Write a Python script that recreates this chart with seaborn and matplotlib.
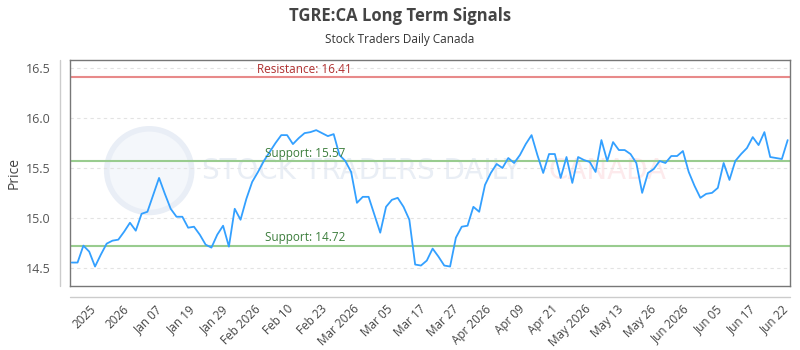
import matplotlib
matplotlib.use("Agg")
import matplotlib.pyplot as plt
import numpy as np
import pandas as pd
import seaborn as sns
from matplotlib.patches import Ellipse

# price series (one point per trading session)
prices = [
    14.55, 14.55, 14.72, 14.66, 14.51, 14.63, 14.74, 14.77, 14.78, 14.86,
    14.95, 14.87, 15.04, 15.06, 15.23, 15.40, 15.24, 15.09, 15.01, 15.01,
    14.90, 14.91, 14.83, 14.73, 14.70, 14.83, 14.92, 14.71, 15.09, 14.98,
    15.19, 15.36, 15.46, 15.57, 15.66, 15.75, 15.83, 15.83, 15.74, 15.80,
    15.85, 15.86, 15.88, 15.85, 15.82, 15.84, 15.63, 15.57, 15.46, 15.15,
    15.21, 15.21, 15.03, 14.85, 15.11, 15.18, 15.20, 15.11, 14.98, 14.53,
    14.52, 14.57, 14.69, 14.61, 14.52, 14.51, 14.80, 14.91, 14.92, 15.11,
    15.06, 15.33, 15.45, 15.54, 15.50, 15.60, 15.55, 15.63, 15.74, 15.83,
    15.63, 15.45, 15.64, 15.64, 15.40, 15.61, 15.35, 15.61, 15.58, 15.56,
    15.46, 15.78, 15.57, 15.76, 15.68, 15.68, 15.64, 15.55, 15.25, 15.45,
    15.49, 15.57, 15.55, 15.62, 15.62, 15.67, 15.46, 15.32, 15.20, 15.24,
    15.25, 15.30, 15.55, 15.38, 15.57, 15.64, 15.70, 15.81, 15.73, 15.86,
    15.61, 15.60, 15.59, 15.78,
]

tick_labels = [
    "2025", "2026", "Jan 07", "Jan 19", "Jan 29", "Feb 2026", "Feb 10",
    "Feb 23", "Mar 2026", "Mar 05", "Mar 17", "Mar 27", "Apr 2026", "Apr 09",
    "Apr 21", "May 2026", "May 13", "May 26", "Jun 2026", "Jun 05", "Jun 17",
    "Jun 22",
]

resistance = 16.41
supports = [15.57, 14.72]

df = pd.DataFrame({"idx": np.arange(len(prices)), "price": prices})

sns.set_theme(style="white")
plt.rcParams["font.family"] = ["Open Sans", "DejaVu Sans"]

fig = plt.figure(figsize=(8, 3.5), dpi=100)
ax = fig.add_axes([0.0875, 0.183, 0.9, 0.646])

# faint watermark
ax.add_patch(Ellipse((0.11, 0.51), 0.118, 0.37, transform=ax.transAxes,
                     facecolor="#f4f7fb", edgecolor="#e9eef6", linewidth=4,
                     zorder=0))
ax.text(0.183, 0.51, "STOCK TRADERS DAILY", transform=ax.transAxes,
        fontsize=20, color="#e9eef5", va="center", ha="left",
        fontfamily="DejaVu Sans", zorder=0)
ax.text(0.665, 0.51, "CANADA", transform=ax.transAxes,
        fontsize=20, color="#fdeaec", va="center", ha="left",
        fontfamily="DejaVu Sans", zorder=0)

sns.lineplot(data=df, x="idx", y="price", ax=ax, color="#33a0ff",
             linewidth=1.3, zorder=3)

ax.axhline(resistance, color="#e88a8a", linewidth=1.5, zorder=2)
ax.text(0.326, resistance + 0.015, f"Resistance: {resistance}",
        transform=ax.get_yaxis_transform(), ha="center", va="bottom",
        fontsize=8.5, color="#b03030")
for s in supports:
    ax.axhline(s, color="#99cc8f", linewidth=1.5, zorder=2)
    ax.text(0.326, s + 0.015, f"Support: {s}",
            transform=ax.get_yaxis_transform(), ha="center", va="bottom",
            fontsize=8.5, color="#3c7d3c", zorder=4)

ax.set_xlim(-0.3, 123.4)
ax.set_ylim(14.315, 16.586)
ax.set_yticks([14.5, 15.0, 15.5, 16.0, 16.5])
ax.yaxis.grid(True, linestyle=(0, (3, 3)), color="#e3e3e3", linewidth=0.8)
ax.set_axisbelow(True)

ax.set_xticks(np.linspace(3, 122, len(tick_labels)))
ax.set_xticklabels(tick_labels, rotation=45, ha="right",
                   rotation_mode="anchor", fontsize=8.5, color="#444444")
ax.tick_params(axis="x", length=0, pad=12)
ax.tick_params(axis="y", length=0, pad=14, labelsize=9, labelcolor="#555555")

for sp in ax.spines.values():
    sp.set_color("#777777")
    sp.set_linewidth(1)

# detached axis lines
ax.plot([-0.014, -0.014], [0, 1], transform=ax.transAxes, color="#cccccc",
        linewidth=1, clip_on=False)
ax.plot([0, 1], [-0.049, -0.049], transform=ax.transAxes, color="#cccccc",
        linewidth=1, clip_on=False)

ax.set_xlabel("")
ax.set_ylabel("Price", fontsize=10, color="#444444", labelpad=3)

fig.text(0.5, 0.955, "TGRE:CA Long Term Signals", ha="center", va="center",
         fontsize=12, fontweight="bold", color="#444444")
fig.text(0.5, 0.886, "Stock Traders Daily Canada", ha="center", va="center",
         fontsize=8.5, color="#333333")

fig.savefig("out.png", dpi=100)
